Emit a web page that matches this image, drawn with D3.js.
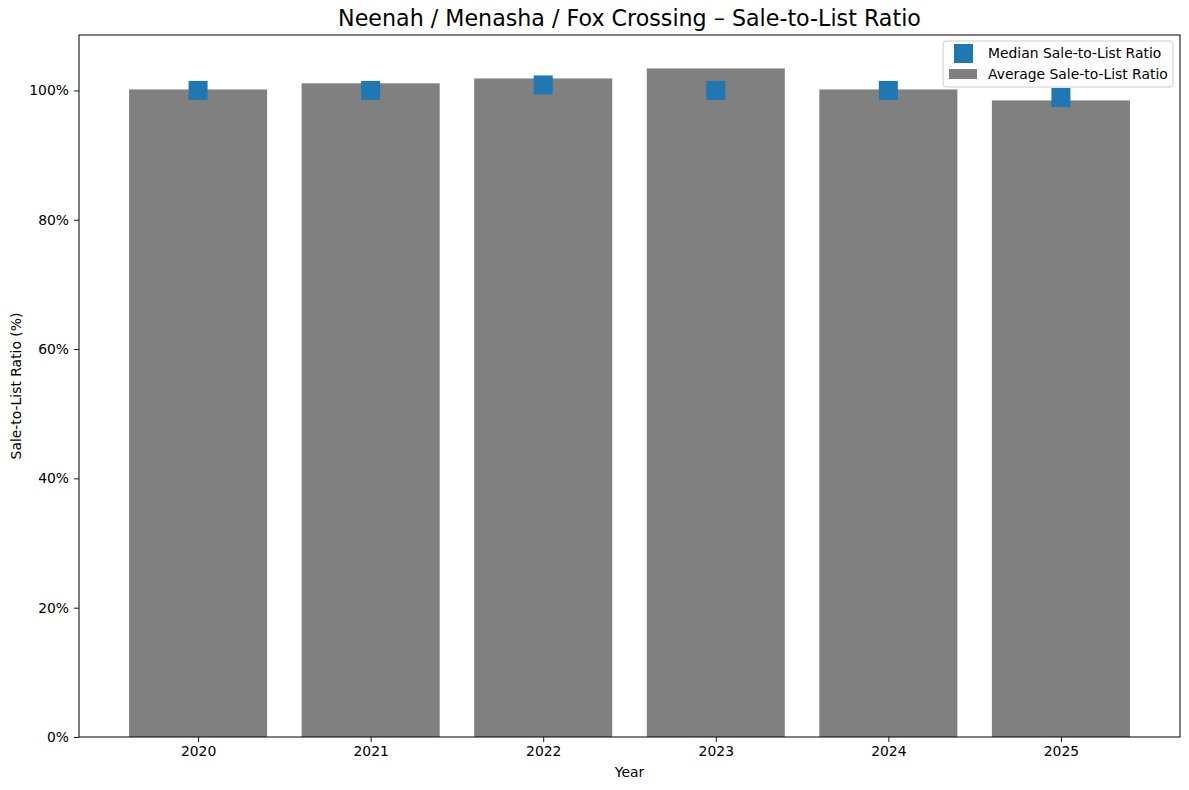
<!DOCTYPE html>
<html>
<head>
<meta charset="utf-8">
<script src="https://cdn.jsdelivr.net/npm/d3@7"></script>
<style>
  body { margin: 0; background: #fff; }
  text { font-family: "DejaVu Sans", sans-serif; }
</style>
</head>
<body>
<div id="chart"></div>
<script>
// data
const years = ['2020', '2021', '2022', '2023', '2024', '2025'];
const averageRatio = [100.15, 101.1, 101.85, 103.4, 100.15, 98.45];
const medianRatio = [100.0, 100.0, 100.85, 100.0, 100.0, 98.9];
const yTicks = [0, 20, 40, 60, 80, 100];

const W = 1189, H = 790;
const margin = { top: 35, right: 9, bottom: 53, left: 79 };
const width = W - margin.left - margin.right;
const height = H - margin.top - margin.bottom;
const fs = 13.9;

const svg = d3.select('#chart').append('svg')
    .attr('width', W)
    .attr('height', H);

const g = svg.append('g')
    .attr('transform', `translate(${margin.left},${margin.top})`);

// matplotlib-like linear x: bars of width 0.8, 5% margins
const x = d3.scaleLinear()
    .domain([-0.4 - 0.29, years.length - 1 + 0.4 + 0.29])
    .range([0, width]);
const barW = x(0.8) - x(0);

const y = d3.scaleLinear()
    .domain([0, d3.max(averageRatio) * 1.05])
    .range([height, 0]);

// bars
g.append('g')
    .selectAll('rect')
    .data(averageRatio)
    .join('rect')
    .attr('x', (d, i) => x(i) - barW / 2)
    .attr('y', d => y(d))
    .attr('width', barW)
    .attr('height', d => height - y(d))
    .attr('fill', '#808080');

// median markers
const ms = 19;
g.append('g')
    .selectAll('rect')
    .data(medianRatio)
    .join('rect')
    .attr('x', (d, i) => x(i) - ms / 2)
    .attr('y', d => y(d) - ms / 2)
    .attr('width', ms)
    .attr('height', ms)
    .attr('fill', '#1f77b4');

// axes
const xAxis = g.append('g')
    .attr('transform', `translate(0,${height})`)
    .call(d3.axisBottom(x).tickValues(d3.range(years.length)).tickFormat(i => years[i])
        .tickSizeOuter(0).tickSize(5).tickPadding(4));
const yAxis = g.append('g')
    .call(d3.axisLeft(y).tickValues(yTicks).tickFormat(d => d + '%')
        .tickSizeOuter(0).tickSize(5).tickPadding(5));
[xAxis, yAxis].forEach(a => {
    a.selectAll('text').attr('font-size', fs).attr('fill', '#000')
        .style('font-family', '"DejaVu Sans", sans-serif');
    a.selectAll('.tick line').attr('stroke', '#000').attr('stroke-width', 0.9);
    a.select('.domain').remove();
});

// frame
g.append('rect')
    .attr('width', width)
    .attr('height', height)
    .attr('fill', 'none')
    .attr('stroke', '#000')
    .attr('stroke-width', 1);

// labels
svg.append('text')
    .attr('x', margin.left + width / 2)
    .attr('y', 26)
    .attr('text-anchor', 'middle')
    .attr('font-size', 22.2)
    .text('Neenah / Menasha / Fox Crossing – Sale-to-List Ratio');

svg.append('text')
    .attr('x', margin.left + width / 2)
    .attr('y', 777)
    .attr('text-anchor', 'middle')
    .attr('font-size', fs)
    .text('Year');

svg.append('text')
    .attr('transform', `translate(21,${margin.top + height / 2}) rotate(-90)`)
    .attr('text-anchor', 'middle')
    .attr('font-size', fs)
    .text('Sale-to-List Ratio (%)');

// legend
const lg = svg.append('g').attr('transform', 'translate(943,41)');
lg.append('rect')
    .attr('width', 230)
    .attr('height', 46)
    .attr('rx', 3)
    .attr('fill', '#fff')
    .attr('fill-opacity', 0.8)
    .attr('stroke', '#ccc');
lg.append('rect')
    .attr('x', 11).attr('y', 3)
    .attr('width', 19).attr('height', 19)
    .attr('fill', '#1f77b4');
lg.append('text')
    .attr('x', 45).attr('y', 17)
    .attr('font-size', fs)
    .text('Median Sale-to-List Ratio');
lg.append('rect')
    .attr('x', 6).attr('y', 28)
    .attr('width', 28).attr('height', 10)
    .attr('fill', '#808080');
lg.append('text')
    .attr('x', 45).attr('y', 38)
    .attr('font-size', fs)
    .text('Average Sale-to-List Ratio');
</script>
</body>
</html>
